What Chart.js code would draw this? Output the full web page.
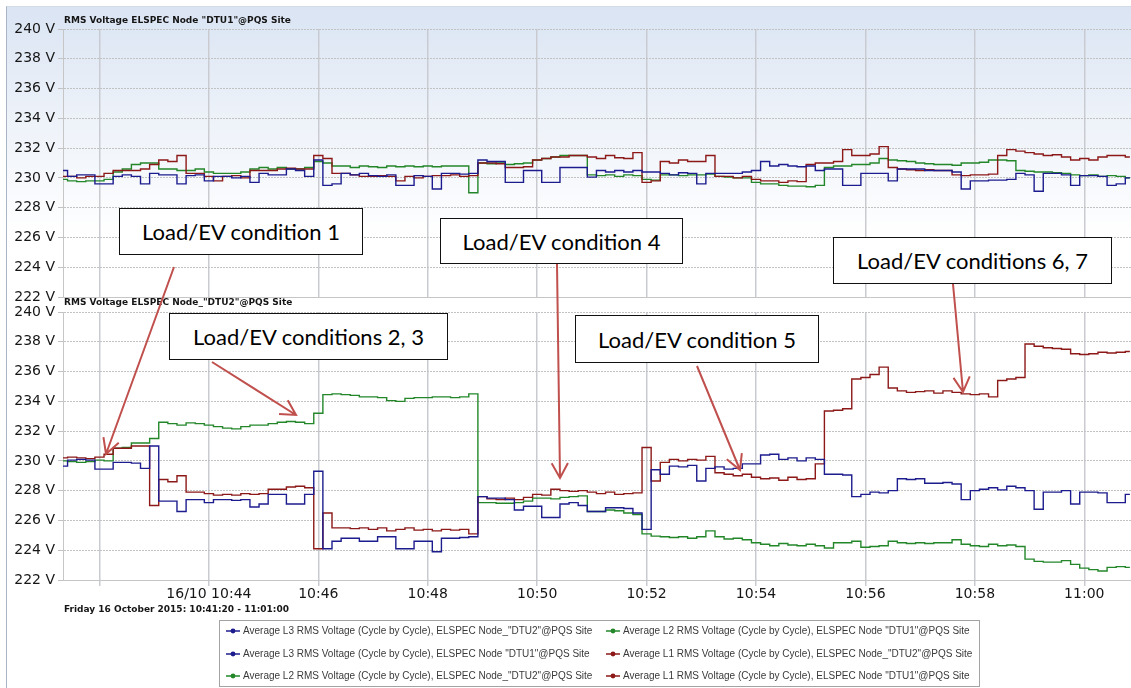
<!DOCTYPE html>
<html>
<head>
<meta charset="utf-8">
<script src="https://cdn.jsdelivr.net/npm/chart.js@4.4.1/dist/chart.umd.min.js"></script>
<style>
  html, body { margin: 0; padding: 0; }
  body { width: 1131px; height: 688px; overflow: hidden; position: relative; background: #fff; font-family: "DejaVu Sans", sans-serif; }
  #frame { position: absolute; left: 6px; top: 6px; width: 1140px; height: 700px;
           border-left: 1px solid #a9b4c4; border-top: 1px solid #d3dbe7;
           background: linear-gradient(to bottom, #dae4f3 0px, #edf2f9 110px, #ffffff 230px); }
  .chartbox { position: absolute; left: 0; }
  .title { position: absolute; left: 64px; font: bold 9px "DejaVu Sans", sans-serif; color: #151515; white-space: nowrap; }
  .note { position: absolute; background: #fff; border: 1.3px solid #111; box-sizing: border-box;
          font-family: Lato, "Open Sans", sans-serif; font-size: 22px; color: #000;
          display: flex; align-items: center; justify-content: center; white-space: nowrap; }
  #arrows { position: absolute; left: 0; top: 0; }
  #legend { position: absolute; left: 219px; top: 620px; width: 761px; height: 67px; box-sizing: border-box;
            border: 1px solid #a3a3a3; background: #fff; }
  .item { position: absolute; font: 10px "Liberation Sans", Arial, sans-serif; color: #3a3a3a; white-space: nowrap; line-height: 12px; }
  .item svg { position: absolute; left: -18px; top: 0; }
</style>
</head>
<body>
<div id="frame"></div>
<div class="chartbox" style="top:0"><canvas id="dtu1" width="1140" height="310"></canvas></div>
<div class="chartbox" style="top:300px"><canvas id="dtu2" width="1140" height="330"></canvas></div>
<div class="title" style="top:15px">RMS Voltage ELSPEC Node "DTU1"@PQS Site</div>
<div class="title" style="top:297px">RMS Voltage ELSPEC Node_"DTU2"@PQS Site</div>
<div class="title" style="top:604px">Friday 16 October 2015: 10:41:20 - 11:01:00</div>
<svg id="arrows" width="1131" height="688"></svg>
<div class="note" style="left:119px;top:208px;width:244px;height:47px">Load/EV condition 1</div>
<div class="note" style="left:169px;top:313px;width:279px;height:47px">Load/EV conditions 2, 3</div>
<div class="note" style="left:440px;top:218px;width:243px;height:46px">Load/EV condition 4</div>
<div class="note" style="left:575px;top:315px;width:244px;height:48px">Load/EV condition 5</div>
<div class="note" style="left:833px;top:237px;width:279px;height:47px">Load/EV conditions 6, 7</div>
<div id="legend"></div>
<script>
// samples every 10 s, 10:41:20 .. 11:00:50 (one row per minute)
const startMinute = 41 + 20 / 60;
const stepMinute = 10 / 60;

const tickMinutes = [42, 44, 46, 48, 50, 52, 54, 56, 58, 60];
const tickLabels = ['', '16/10 10:44', '10:46', '10:48', '10:50', '10:52', '10:54', '10:56', '10:58', '11:00'];
const voltTicks = [222, 224, 226, 228, 230, 232, 234, 236, 238, 240];

// Node "DTU1"
const dtu1L3 = [
  230.5, 230.1, 230.2, 230.2,
  229.6, 229.6, 230.1, 230.2, 230.1, 229.6,
  230.3, 230.2, 230.2, 229.6, 230.15, 230.2,
  229.8, 230.1, 230.1, 230.0, 230.1, 229.7,
  230.3, 230.2, 230.2, 230.6, 230.5, 230.1,
  231.2, 229.5, 229.6, 230.3, 230.2, 230.3,
  230.15, 230.1, 230.2, 229.5, 229.5, 230.15,
  230.1, 229.25, 230.3, 230.3, 230.25, 230.3,
  231.2, 231.1, 231.1, 229.7, 229.7, 230.5,
  230.5, 229.7, 229.7, 230.7, 230.7, 230.7,
  230.05, 230.5, 230.4, 230.5, 230.4, 230.5,
  230.4, 230.4, 230.3, 230.2, 230.35, 230.3,
  229.6, 230.3, 230.3, 230.3, 230.3, 230.4,
  230.5, 231.1, 230.8, 230.9, 230.8, 230.75,
  230.8, 230.5, 230.6, 230.6, 229.5, 229.5,
  230.3, 230.3, 230.3, 229.8, 230.6, 230.6,
  230.6, 230.5, 230.5, 230.5, 230.4, 229.25,
  229.8, 229.8, 229.85, 229.85, 229.9, 230.3,
  230.2, 229.1, 230.3, 230.3, 230.2, 229.5,
  230.15, 230.15, 230.1, 229.5, 229.6, 230.0
];
const dtu1L1 = [
  230.1, 230.1, 230.0, 230.1,
  230.1, 230.3, 230.5, 230.5, 230.5, 230.6,
  230.9, 231.2, 231.1, 231.5, 230.3, 230.3,
  230.1, 229.8, 230.1, 230.15, 230.0, 230.5,
  230.5, 230.5, 230.6, 230.65, 230.6, 230.6,
  231.5, 231.3, 230.3, 230.3, 230.2, 230.1,
  230.1, 230.15, 230.1, 229.8, 230.1, 230.0,
  230.1, 230.15, 230.15, 230.2, 230.1, 230.15,
  231.0, 231.0, 230.95, 230.7, 230.7, 230.75,
  231.2, 231.3, 231.4, 231.4, 231.5, 231.5,
  231.4, 231.3, 231.5, 231.35, 231.3, 231.7,
  229.7, 229.8, 231.1, 231.0, 231.2, 231.1,
  231.1, 231.5, 230.1, 230.1, 230.0, 230.1,
  229.9, 229.8, 229.8, 229.7, 229.8, 229.75,
  230.9, 231.0, 231.0, 231.1, 231.9, 231.5,
  231.5, 231.6, 232.1, 230.7, 230.6, 230.55,
  230.5, 230.55, 230.5, 230.5, 230.2, 230.15,
  230.2, 230.2, 230.25, 231.5, 231.9, 231.8,
  231.7, 231.6, 231.5, 231.55, 231.4, 231.2,
  231.3, 231.2, 231.4, 231.5, 231.5, 231.4
];
const dtu1L2 = [
  229.9, 229.8, 229.75, 229.8,
  229.8, 229.9, 230.4, 230.6, 230.9, 231.0,
  231.0, 230.6, 230.6, 230.5, 230.5, 230.6,
  230.4, 230.3, 230.3, 230.3, 230.4, 230.6,
  230.7, 230.6, 230.7, 230.6, 230.6, 230.7,
  231.1, 231.0, 230.8, 230.8, 230.7, 230.8,
  230.75, 230.7, 230.8, 230.75, 230.8, 230.75,
  230.8, 230.75, 230.8, 230.8, 230.8, 229.0,
  231.0, 230.95, 231.0, 230.9, 230.95, 231.0,
  231.2, 231.3, 231.4, 231.5, 231.5, 231.5,
  230.2, 230.15, 230.2, 230.1, 230.2, 230.15,
  229.9, 229.85, 230.2, 230.2, 230.15, 230.2,
  230.2, 230.25, 230.1, 230.05, 230.0, 230.0,
  229.7, 229.6, 229.6, 229.5, 229.45, 229.45,
  229.4, 229.5, 230.7, 230.8, 230.8, 230.9,
  230.9, 231.0, 231.3, 231.2, 231.15, 231.1,
  231.0, 230.95, 230.9, 230.9, 230.85, 231.0,
  231.0, 231.05, 231.2, 231.2, 231.15, 230.5,
  230.45, 230.4, 230.4, 230.35, 230.3, 230.2,
  230.15, 230.2, 230.1, 230.15, 230.1, 230.0
];

// Node_"DTU2"
const dtu2L3 = [
  229.65, 230.05, 230.1, 230.05,
  229.45, 229.45, 229.9, 229.9, 229.85, 229.5,
  231.0, 227.3, 227.3, 226.6, 227.4, 227.4,
  227.2, 227.4, 227.4, 227.35, 227.4, 226.9,
  227.1, 227.75, 227.75, 227.1, 227.1, 227.75,
  229.3, 224.1, 224.6, 224.8, 224.8, 224.6,
  224.6, 224.9, 224.9, 224.1, 224.1, 224.6,
  224.6, 223.9, 224.8, 224.8, 224.85, 224.9,
  227.6, 227.5, 227.5, 227.4, 226.7, 226.95,
  226.95, 226.2, 226.2, 227.1, 227.2, 227.0,
  226.6, 226.6, 226.85, 226.85, 226.8, 226.5,
  225.4, 229.4, 229.1, 229.65, 229.6, 229.7,
  228.65, 229.5, 229.6, 229.45, 229.5, 229.8,
  229.8, 230.4, 230.45, 230.1, 230.2, 230.0,
  230.2, 230.1, 229.1, 229.1, 229.05, 227.6,
  227.75, 227.9, 227.85, 228.0, 228.8, 228.75,
  228.8, 228.5, 228.5, 228.55, 228.45, 227.4,
  228.0, 228.1, 228.2, 228.05, 228.3, 228.2,
  228.0, 226.75, 227.9, 227.9, 228.0, 227.1,
  227.9, 227.9, 227.85, 227.2, 227.2, 227.75
];
const dtu2L1 = [
  230.2, 230.25, 230.2, 230.15,
  230.25, 230.45, 230.85, 230.85, 231.0, 231.0,
  227.0, 228.75, 228.6, 229.0, 227.9, 227.9,
  227.8, 227.7, 227.75, 227.7, 227.8, 227.75,
  227.8, 228.1, 228.1, 228.25, 228.3, 228.2,
  224.1, 226.5, 225.5, 225.5, 225.45, 225.5,
  225.4, 225.5, 225.3, 225.4, 225.5, 225.35,
  225.4, 225.3, 225.4, 225.35, 225.4, 225.1,
  227.6, 227.45, 227.4, 227.5, 227.4, 227.55,
  227.75, 227.7, 228.1, 228.0, 227.95, 228.0,
  227.9, 227.8, 227.9, 227.75, 227.8, 227.85,
  230.9, 228.65, 229.9, 230.1, 230.0, 230.1,
  230.05, 230.3, 229.2, 229.1, 229.0, 229.1,
  228.9, 228.8, 228.85, 228.7, 228.9, 228.75,
  228.8, 229.8, 233.35, 233.4, 233.5, 235.5,
  235.6, 235.8, 236.3, 234.9, 234.7, 234.6,
  234.65, 234.7, 234.55, 234.7, 234.6, 234.5,
  234.45, 234.5, 234.3, 235.4, 235.5, 235.6,
  237.85, 237.7, 237.6, 237.55, 237.5, 237.2,
  237.15, 237.2, 237.3, 237.25, 237.3, 237.35
];
const dtu2L2 = [
  230.0, 229.95, 229.9, 229.95,
  230.05, 230.0, 230.85, 230.9, 231.2, 231.2,
  231.5, 232.6, 232.5, 232.4, 232.55, 232.5,
  232.4, 232.3, 232.2, 232.15, 232.3, 232.4,
  232.4, 232.5, 232.6, 232.65, 232.6, 232.5,
  233.2, 234.45, 234.5, 234.45, 234.4, 234.3,
  234.3, 234.25, 234.05, 234.0, 234.2, 234.25,
  234.25, 234.3, 234.3, 234.25, 234.3, 234.5,
  227.2, 227.2, 227.15, 227.15, 227.2, 227.3,
  227.5, 227.5, 227.45, 227.55, 227.6, 227.65,
  226.6, 226.6, 226.7, 226.65, 226.5, 226.4,
  225.1, 224.95, 224.9, 224.85, 224.9, 224.8,
  224.9, 225.3, 224.9, 224.75, 224.8, 224.7,
  224.5, 224.4, 224.3, 224.45, 224.35, 224.3,
  224.4, 224.3, 224.15, 224.5, 224.5, 224.6,
  224.2, 224.25, 224.3, 224.6, 224.5, 224.45,
  224.5, 224.45, 224.5, 224.5, 224.7, 224.4,
  224.3, 224.25, 224.4, 224.3, 224.35, 224.25,
  223.4, 223.25, 223.2, 223.2, 223.3, 223.05,
  222.8, 222.7, 222.6, 222.85, 222.9, 222.85
];

const BLUE = '#1c1c8e';
const RED = '#8c1818';
const GREEN = '#23872a';

const names = {
  dtu2L3: 'Average L3 RMS Voltage (Cycle by Cycle), ELSPEC Node_"DTU2"@PQS Site',
  dtu1L2: 'Average L2 RMS Voltage (Cycle by Cycle), ELSPEC Node "DTU1"@PQS Site',
  dtu1L3: 'Average L3 RMS Voltage (Cycle by Cycle), ELSPEC Node "DTU1"@PQS Site',
  dtu2L1: 'Average L1 RMS Voltage (Cycle by Cycle), ELSPEC Node_"DTU2"@PQS Site',
  dtu2L2: 'Average L2 RMS Voltage (Cycle by Cycle), ELSPEC Node_"DTU2"@PQS Site',
  dtu1L1: 'Average L1 RMS Voltage (Cycle by Cycle), ELSPEC Node "DTU1"@PQS Site'
};

const toPoints = values => values.map((v, i) => ({ x: startMinute + i * stepMinute, y: v }));

const series = (key, values, color) => ({
  label: names[key],
  data: toPoints(values),
  borderColor: color,
  backgroundColor: color,
  borderWidth: 1.4,
  pointRadius: 0,
  stepped: 'middle',
  fill: false
});

function makeOptions(isTop) {
  return {
    responsive: false,
    animation: false,
    events: [],
    layout: { padding: isTop ? { top: 29, bottom: 13, left: 0, right: 1 } : { top: 12, bottom: 8, left: 0, right: 1 } },
    plugins: { legend: { display: false }, tooltip: { enabled: false } },
    scales: {
      x: {
        type: 'linear',
        min: startMinute,
        max: 61,
        afterBuildTicks: s => { s.ticks = tickMinutes.map(v => ({ value: v })); },
        afterFit: s => { s.height = isTop ? 0 : 42; },
        ticks: {
          display: !isTop,
          autoSkip: false,
          maxRotation: 0,
          padding: 0,
          color: '#161616',
          font: { family: 'DejaVu Sans', size: 14 },
          callback: v => tickLabels[tickMinutes.indexOf(v)]
        },
        grid: { color: '#c9cbd1', lineWidth: 1.5, drawTicks: !isTop, tickLength: 6 },
        border: { display: true, color: '#c6c6c6', width: 1 }
      },
      y: {
        min: 222,
        max: 240,
        afterBuildTicks: s => { s.ticks = voltTicks.map(v => ({ value: v })); },
        afterFit: s => { s.width = 63; },
        ticks: {
          padding: 3,
          color: '#161616',
          font: { family: 'DejaVu Sans', size: 14 },
          callback: v => v + ' V'
        },
        grid: { color: '#c2c2c2', lineWidth: 1, tickLength: 5 },
        border: { display: true, color: '#c6c6c6', dash: [2, 1] }
      }
    }
  };
}

new Chart(document.getElementById('dtu1'), {
  type: 'line',
  data: { datasets: [series('dtu1L3', dtu1L3, BLUE), series('dtu1L1', dtu1L1, RED), series('dtu1L2', dtu1L2, GREEN)] },
  options: makeOptions(true)
});

new Chart(document.getElementById('dtu2'), {
  type: 'line',
  data: { datasets: [series('dtu2L3', dtu2L3, BLUE), series('dtu2L1', dtu2L1, RED), series('dtu2L2', dtu2L2, GREEN)] },
  options: makeOptions(false)
});

// callout arrows: [x1, y1, x2, y2]
const arrows = [
  [174, 267, 106, 454],
  [212, 362, 296, 415],
  [557, 264, 560, 478],
  [697, 366, 740, 470],
  [953, 284, 963, 392]
];
const svg = document.getElementById('arrows');
const NS = 'http://www.w3.org/2000/svg';
arrows.forEach(([x1, y1, x2, y2]) => {
  const a = Math.atan2(y2 - y1, x2 - x1);
  const len = 17, spread = 0.5;
  const p1 = [x2 - len * Math.cos(a - spread), y2 - len * Math.sin(a - spread)];
  const p2 = [x2 - len * Math.cos(a + spread), y2 - len * Math.sin(a + spread)];
  const path = document.createElementNS(NS, 'path');
  path.setAttribute('d', `M${x1},${y1} L${x2},${y2} M${p1[0]},${p1[1]} L${x2},${y2} L${p2[0]},${p2[1]}`);
  path.setAttribute('stroke', '#c0504d');
  path.setAttribute('stroke-width', '2');
  path.setAttribute('fill', 'none');
  svg.appendChild(path);
});

// legend, two columns
const legendRows = [
  [['dtu2L3', BLUE], ['dtu1L2', GREEN]],
  [['dtu1L3', BLUE], ['dtu2L1', RED]],
  [['dtu2L2', GREEN], ['dtu1L1', RED]]
];
const legend = document.getElementById('legend');
legendRows.forEach((row, r) => {
  row.forEach(([key, color], c) => {
    const item = document.createElement('div');
    item.className = 'item';
    item.style.left = (c === 0 ? 23 : 403) + 'px';
    item.style.top = (4 + r * 22.5) + 'px';
    item.innerHTML = `<svg width="16" height="12"><line x1="1" y1="6" x2="15" y2="6" stroke="${color}" stroke-width="1.5"/><circle cx="8" cy="6" r="2.4" fill="${color}"/></svg>`;
    item.appendChild(document.createTextNode(names[key]));
    legend.appendChild(item);
  });
});
</script>
</body>
</html>
